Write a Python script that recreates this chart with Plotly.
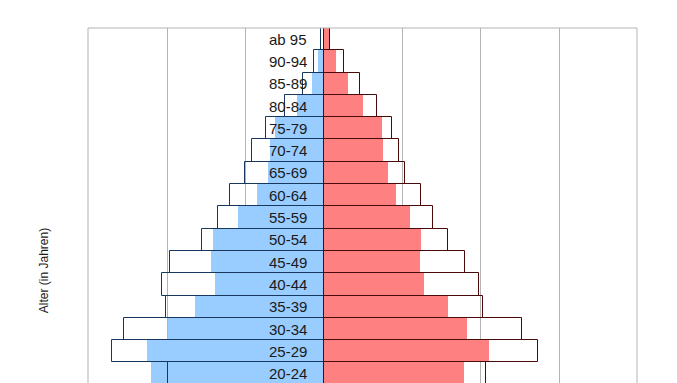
import plotly.graph_objects as go

# Age groups from bottom (visible part) to top
ages = ["20-24", "25-29", "30-34", "35-39", "40-44", "45-49", "50-54", "55-59",
        "60-64", "65-69", "70-74", "75-79", "80-84", "85-89", "90-94", "ab 95"]

# Male (left, filled blue) and comparison outline
men_fill = [2.21, 2.26, 1.99, 1.65, 1.39, 1.44, 1.42, 1.10,
            0.85, 0.72, 0.69, 0.63, 0.35, 0.16, 0.077, 0.02]
men_outline = [1.99, 2.71, 2.55, 2.02, 2.07, 1.96, 1.56, 1.35,
               1.20, 1.01, 0.92, 0.74, 0.50, 0.27, 0.13, 0.033]

# Female (right, filled red) and comparison outline
women_fill = [1.78, 2.10, 1.82, 1.58, 1.27, 1.22, 1.23, 1.09,
              0.92, 0.81, 0.745, 0.74, 0.50, 0.30, 0.15, 0.077]
women_outline = [2.07, 2.73, 2.53, 2.02, 1.98, 1.80, 1.58, 1.39,
                 1.24, 1.03, 0.96, 0.87, 0.68, 0.46, 0.25, 0.077]

y_title = "Alter (in Jahren)"

fig = go.Figure()
fig.add_trace(go.Bar(y=ages, x=[-v for v in men_fill], orientation="h",
                     marker=dict(color="#99ccff", line=dict(width=0)),
                     showlegend=False, hoverinfo="skip"))
fig.add_trace(go.Bar(y=ages, x=women_fill, orientation="h",
                     marker=dict(color="#ff8080", line=dict(width=0)),
                     showlegend=False, hoverinfo="skip"))
fig.add_trace(go.Bar(y=ages, x=[-v for v in men_outline], orientation="h",
                     marker=dict(color="rgba(0,0,0,0)",
                                 line=dict(color="#17375e", width=1)),
                     showlegend=False, hoverinfo="skip"))
fig.add_trace(go.Bar(y=ages, x=women_outline, orientation="h",
                     marker=dict(color="rgba(0,0,0,0)",
                                 line=dict(color="#4a0a0a", width=1)),
                     showlegend=False, hoverinfo="skip"))

for a in ages:
    fig.add_annotation(x=0, y=a, xref="x", yref="y", text=a, showarrow=False,
                       xanchor="right", yanchor="middle", xshift=-15,
                       font=dict(family="Liberation Sans, Arial", size=15, color="#1a1a1a"))

fig.add_annotation(x=0, y=0.315, xref="paper", yref="paper", text=y_title,
                   showarrow=False, textangle=-90, xanchor="center", yanchor="middle",
                   xshift=-44,
                   font=dict(family="Liberation Sans, Arial", size=12, color="#1a1a1a"))

frame = dict(color="#b3b3b3", width=1)
fig.add_shape(type="line", xref="paper", yref="paper", x0=0, x1=0, y0=0, y1=1, line=frame)
fig.add_shape(type="line", xref="paper", yref="paper", x0=1, x1=1, y0=0, y1=1, line=frame)
fig.add_shape(type="line", xref="paper", yref="paper", x0=0, x1=1, y0=1, y1=1, line=frame)

# page body adds an 8px margin; figure is sized to fit the 677x383 window
fig.update_layout(
    width=669, height=375,
    margin=dict(l=80, r=40, t=20, b=0),
    paper_bgcolor="white", plot_bgcolor="white",
    barmode="overlay", bargap=0,
    xaxis=dict(range=[-3.01, 3.99], dtick=1, tick0=0, showgrid=True,
               gridcolor="#b3b3b3", gridwidth=1, zeroline=False,
               showticklabels=False, showline=False, fixedrange=True),
    yaxis=dict(type="category", range=[-0.42, 15.5], showgrid=False,
               zeroline=False, showticklabels=False, showline=False, fixedrange=True),
)

fig.write_html("out.html")
